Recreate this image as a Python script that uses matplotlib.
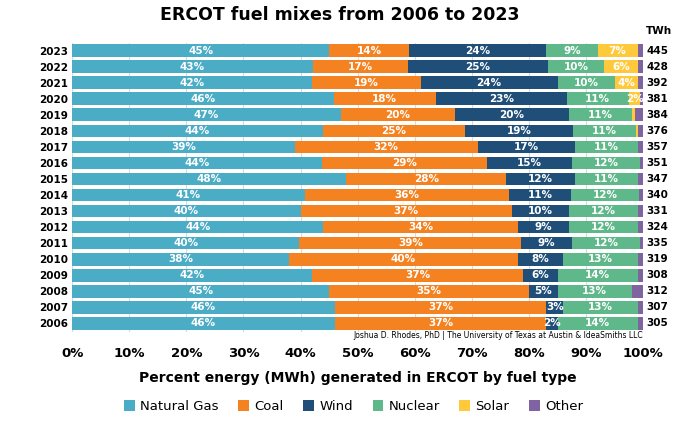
import matplotlib.pyplot as plt
import numpy as np

years = list(range(2006, 2024))
gas     = [46,46,45,42,38,40,44,40,41,48,44,39,44,47,46,42,43,45]
coal    = [37,37,35,37,40,39,34,37,36,28,29,32,25,20,18,19,17,14]
wind    = [2,3,5,6,8,9,9,10,11,12,15,17,19,20,23,24,25,24]
nuclear = [14,13,13,14,13,12,12,12,12,11,12,11,11,11,11,10,10,9]
solar   = [0,0,0,0,0,0,0,0,0,0,0,0,0.3,0.5,2,4,6,7]
other   = [1,1,2,1,1,0.5,1,1,0.7,1,0.5,1,1,1.5,0.5,1,1,1]
twh     = [305,307,312,308,319,335,324,331,340,347,351,357,376,384,381,392,428,445]

names = ["Natural Gas","Coal","Wind","Nuclear","Solar","Other"]
colors = ["#4BACC6","#F58220","#1F4E79","#5FB88A","#FFC93C","#8064A2"]
series = [gas,coal,wind,nuclear,solar,other]

data = np.array(series, dtype=float)
data = data / data.sum(axis=0) * 100

fig = plt.figure(figsize=(6.8,4.25), dpi=100)
ax = fig.add_axes([0.106, 0.22, 0.84, 0.68])
y = np.arange(len(years))
left = np.zeros(len(years))
for i,(n,c) in enumerate(zip(names,colors)):
    ax.barh(y, data[i], left=left, color=c, height=0.78, label=n, zorder=3)
    for j in range(len(years)):
        v = series[i][j]
        if i < 5 and v >= 2:
            ax.text(left[j]+data[i][j]/2, y[j], f"{v:g}%", ha='center', va='center',
                    color='white', fontsize=7.5, fontweight='bold', zorder=4)
    left += data[i]

ax.set_xlim(0,100)
ax.set_ylim(-0.5, len(years)-0.5)
ax.set_yticks(y)
ax.set_yticklabels([str(v) for v in years], fontsize=7.5, fontweight='bold')
ax.set_xticks(range(0,101,10))
ax.set_xticklabels([f"{v}%" for v in range(0,101,10)], fontsize=9.5, fontweight='bold')
ax.tick_params(axis='y', length=0, pad=3)
ax.tick_params(axis='x', length=0, pad=11)
ax.grid(axis='x', color='#d9d9d9', lw=0.8, zorder=0)
for s in ax.spines.values(): s.set_visible(False)
for j,t in enumerate(twh):
    ax.text(100.5, y[j], str(t), ha='left', va='center', fontsize=7.5, fontweight='bold')
ax.text(100.5, len(years)-0.1, "TWh", ha='left', va='bottom', fontsize=7.5, fontweight='bold')
ax.text(100, -0.5, "Joshua D. Rhodes, PhD | The University of Texas at Austin & IdeaSmiths LLC",
        ha='right', va='top', fontsize=5.5)
ax.set_xlabel("Percent energy (MWh) generated in ERCOT by fuel type", fontsize=10, fontweight='bold', labelpad=8)
fig.suptitle("ERCOT fuel mixes from 2006 to 2023", fontsize=12.5, fontweight='bold', y=0.985)
fig.legend(*ax.get_legend_handles_labels(), loc='lower center', ncol=6, frameon=False,
           fontsize=9.5, bbox_to_anchor=(0.52,0.0), handlelength=0.8, handleheight=0.8, columnspacing=1.5, handletextpad=0.4)
fig.savefig("out.png", dpi=100)
